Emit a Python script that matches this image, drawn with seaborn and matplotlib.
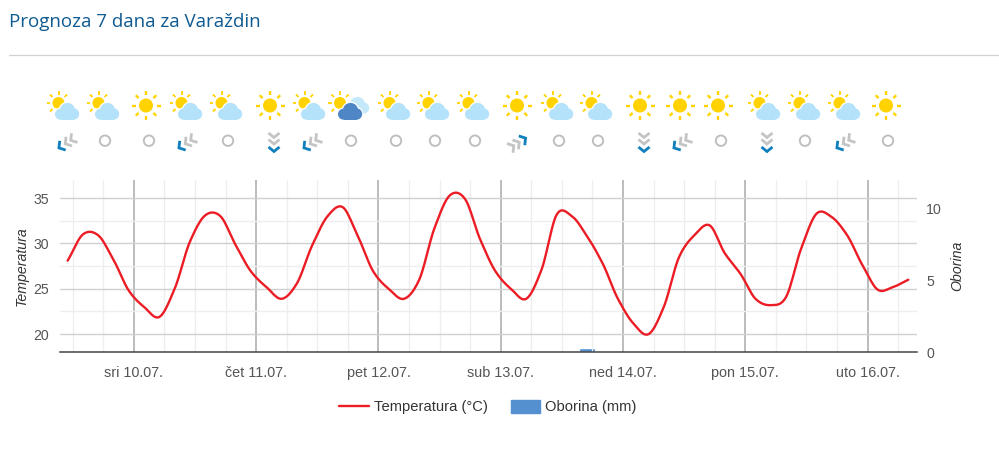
import numpy as np
import pandas as pd
import seaborn as sns
import matplotlib
matplotlib.use("Agg")
import matplotlib.pyplot as plt
from matplotlib.lines import Line2D
from matplotlib.patches import Circle, Rectangle, Patch

# hours counted from sri 10.07. 00:00, one reading every 3 hours
hours = [-13 + 3 * i for i in range(56)]
temperature = [
    28.1, 31.0, 30.9, 28.2, 24.8, 23.0, 21.9, 25.0, 30.2, 33.1, 33.0, 29.8, 26.9, 25.2,
    23.9, 25.6, 29.8, 33.0, 34.0, 30.75, 26.9, 25.0, 23.9, 26.0, 31.7, 35.3, 34.9, 30.4,
    26.9, 25.0, 23.9, 27.1, 33.2, 33.0, 30.75, 27.8, 23.9, 21.2, 20.0, 23.0, 28.5, 30.9,
    32.0, 28.9, 26.7, 23.9, 23.2, 24.1, 29.5, 33.3, 32.9, 30.9, 27.6, 24.9, 25.2, 26.0,
]
rain = [0.0] * 56
rain[34] = 0.3

day_labels = ["sri 10.07.", "čet 11.07.", "pet 12.07.", "sub 13.07.", "ned 14.07.", "pon 15.07.", "uto 16.07."]
day_hours = [0, 24, 48, 72, 96, 120, 144]

sky_icons = ["partly", "partly", "sun", "partly", "partly", "sun", "partly", "rain", "partly", "partly", "partly",
             "sun", "partly", "partly", "sun", "sun", "sun", "partly", "partly", "partly", "sun"]
sky_x = [67, 107, 146, 190, 230, 270, 313, 350, 398, 437, 477, 517, 561, 600, 640, 680, 718, 768, 808, 848, 886]
wind_icons = ["sw", "calm", "calm", "sw", "calm", "down", "sw", "calm", "calm", "calm", "calm",
              "ne", "calm", "calm", "down", "sw", "calm", "down", "calm", "sw", "calm"]
wind_x = [67, 105, 149, 187, 228, 274, 312, 351, 396, 435, 475, 520, 559, 598, 644, 682, 721, 767, 805, 845, 888]

RED = "#ec1c24"
BLUE = "#5490cf"
SUN = "#ffd200"
CLOUD = "#b3e2fa"
DARK_CLOUD = "#4f86c6"
ARROW = "#0f7fbd"
GREY = "#c4c4c4"

sns.set_theme(style="white")
plt.rcParams["font.family"] = ["Liberation Sans", "DejaVu Sans"]


def smooth(x, y, steps=12):
    # cubic hermite between the readings, the site draws a spline too
    x = np.array(x, dtype=float)
    y = np.array(y, dtype=float)
    slope = np.gradient(y, x) * 0.95
    xs, ys = [], []
    for i in range(len(x) - 1):
        h = x[i + 1] - x[i]
        t = np.linspace(0, 1, steps, endpoint=False)
        xs.extend(x[i] + t * h)
        ys.extend((2*t**3 - 3*t**2 + 1) * y[i] + (t**3 - 2*t**2 + t) * h * slope[i]
                  + (-2*t**3 + 3*t**2) * y[i + 1] + (t**3 - t**2) * h * slope[i + 1])
    xs.append(x[-1])
    ys.append(y[-1])
    return pd.DataFrame({"hour": xs, "temp": ys})


fig = plt.figure(figsize=(9.99, 4.51), dpi=100)
W, H = 999, 451
ax = fig.add_axes([60 / W, 1 - 352.3 / H, (917 - 60) / W, (352.3 - 180) / H])
ax2 = ax.twinx()
ax.set_zorder(2)
ax.patch.set_visible(False)
ax2.set_zorder(1)

# ==========================================
# Rain bars
# ==========================================
rain_df = pd.DataFrame({"hour": hours, "rain": rain})
sns.barplot(data=rain_df, x="hour", y="rain", native_scale=True, color=BLUE, saturation=1,
            width=1.05, ax=ax2)
ax2.set_ylim(0, 12)
ax2.set_yticks([0, 5, 10])
ax2.set_ylabel("Oborina", fontsize=10.2, style="italic", color="#333333")
ax2.yaxis.set_label_coords(1.0385, 0.5)
ax2.set_xlabel("")
ax2.tick_params(axis="y", length=0, labelsize=10.2, labelcolor="#555555", pad=6.5)
for s in ax2.spines.values():
    s.set_visible(False)

# ==========================================
# Temperature line
# ==========================================
sns.lineplot(data=smooth(hours, temperature), x="hour", y="temp", color=RED, linewidth=1.7, ax=ax, zorder=5)
ax.set_xlim(-14.5, 153.7)
ax.set_ylim(18, 37)
ax.set_yticks([20, 25, 30, 35])
ax.set_yticks([22.5, 27.5, 32.5], minor=True)
ax.set_xticks(day_hours)
ax.set_xticklabels(day_labels)
ax.set_xticks([h for h in range(-12, 154, 6) if h % 24 != 0], minor=True)
ax2.set_xlim(-14.5, 153.7)
ax.set_ylabel("Temperatura", fontsize=10.2, style="italic", color="#333333")
ax.yaxis.set_label_coords(-0.036, 0.5)
ax.set_xlabel("")
ax.tick_params(axis="y", which="major", length=0, labelsize=10.2, labelcolor="#555555", pad=8)
ax.tick_params(axis="x", which="major", length=0, labelsize=10.4, labelcolor="#555555", pad=10)
ax.tick_params(which="minor", length=0)
ax.grid(True, which="major", axis="y", color="#d0d0d0", linewidth=1.0, zorder=1)
ax.grid(True, which="minor", axis="y", color="#eeeeee", linewidth=1.0, zorder=1)
ax.grid(True, which="major", axis="x", color="#aaaaaa", linewidth=1.1, zorder=1)
ax.grid(True, which="minor", axis="x", color="#eeeeee", linewidth=0.9, zorder=1)
ax.set_axisbelow(True)
for name, s in ax.spines.items():
    s.set_visible(name == "bottom")
ax.spines["bottom"].set_color("#444444")
ax.spines["bottom"].set_linewidth(1.1)
ax.spines["bottom"].set_zorder(6)

# legend
handles = [Line2D([0], [0], color=RED, linewidth=1.7), Patch(color=BLUE)]
fig.legend(handles, ["Temperatura (°C)", "Oborina (mm)"], loc="center", bbox_to_anchor=(488 / W, 1 - 407 / H),
           ncol=2, frameon=False, fontsize=10.6, labelcolor="#333333", handlelength=2.0, handleheight=1.0,
           handletextpad=0.35, columnspacing=1.55)

# ==========================================
# Header and forecast icons, pixel coordinates
# ==========================================
deco = fig.add_axes([0, 0, 1, 1], zorder=3)
deco.set_xlim(0, W)
deco.set_ylim(H, 0)
deco.axis("off")
deco.text(9, 22, "Prognoza 7 dana za Varaždin", fontsize=13.5, color="#0e5a91", family="Open Sans", va="center")
deco.plot([9, 999], [55, 55], color="#d2d2d2", linewidth=0.9)

layer = [10]


def next_z():
    # icons overlap, so every piece goes on top of the one before
    layer[0] += 1
    return layer[0]


def sun(x, y, r=6.5, ray1=9.5, ray2=13.5, lw=1.5):
    z = next_z()
    deco.add_patch(Circle((x, y), r, color=SUN, lw=0, zorder=z))
    for a in np.arange(8) * np.pi / 4:
        deco.plot([x + ray1 * np.cos(a), x + ray2 * np.cos(a)], [y + ray1 * np.sin(a), y + ray2 * np.sin(a)],
                  color=SUN, linewidth=lw, solid_capstyle="butt", zorder=z)


def cloud(x, y, color, halo=1.3):
    lumps = [(-6.5, 2.2, 5.5), (0.5, -1.5, 7.6), (6.5, 2.0, 5.7)]
    for grow, c in [(halo, "white"), (0, color)]:
        z = next_z()
        for dx, dy, r in lumps:
            deco.add_patch(Circle((x + dx, y + dy), r + grow, color=c, lw=0, zorder=z))
        deco.add_patch(Rectangle((x - 6.5, y + 1), 13, 6.7 + grow, color=c, lw=0, zorder=z))


def chevrons(x, y, dx, dy):
    # three chevrons along (dx, dy), the leading one is blue
    d = np.array([dx, dy], dtype=float)
    d = d / np.hypot(dx, dy)
    n = np.array([-d[1], d[0]])
    for k, c in zip([-6.5, 0, 7.5], [GREY, GREY, ARROW]):
        tip = np.array([x, y]) + d * (k + 1.5)
        a = tip - d * 4.5 + n * 5.5
        b = tip - d * 4.5 - n * 5.5
        deco.plot([a[0], tip[0], b[0]], [a[1], tip[1], b[1]], color=c, linewidth=2.0,
                  solid_joinstyle="miter", solid_capstyle="butt", zorder=next_z())


for kind, x in zip(sky_icons, sky_x):
    if kind == "sun":
        sun(x, 105.5, r=7, ray1=10.5, ray2=14.5, lw=1.7)
    elif kind == "partly":
        sun(x - 8.5, 103, r=6, ray1=8.5, ray2=12, lw=1.3)
        cloud(x, 112, CLOUD)
    else:
        sun(x - 10, 103, r=6, ray1=8.5, ray2=12, lw=1.3)
        cloud(x + 7, 106, "#c5e8fb", halo=0)
        cloud(x, 112, DARK_CLOUD)

for kind, x in zip(wind_icons, wind_x):
    if kind == "calm":
        deco.add_patch(Circle((x, 140.7), 5.2, fill=False, edgecolor="#bdbdbd", linewidth=1.35))
    elif kind == "sw":
        chevrons(x - 0.5, 143, -0.85, 0.55)
    elif kind == "ne":
        chevrons(x - 2, 143, 0.85, -0.55)
    else:
        chevrons(x, 142.5, 0, 1)

plt.savefig("out.png", dpi=100)
